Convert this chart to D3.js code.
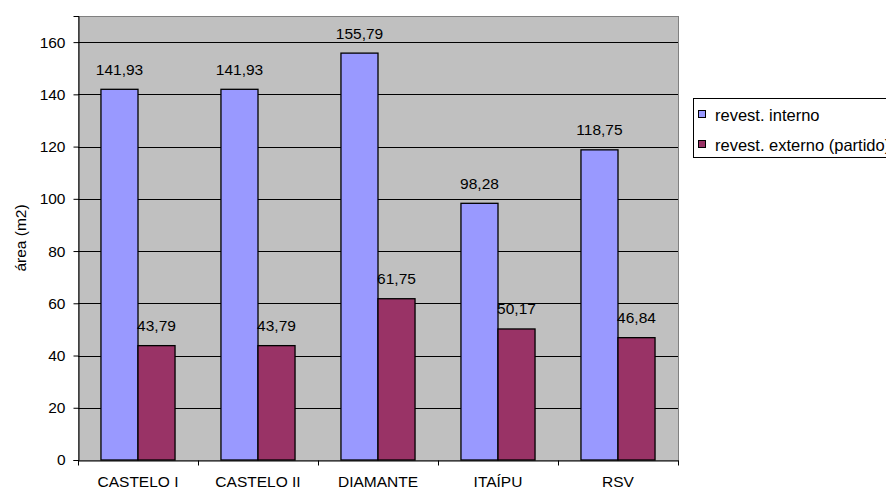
<!DOCTYPE html>
<html>
<head>
<meta charset="utf-8">
<script src="https://cdn.jsdelivr.net/npm/d3@7"></script>
<style>
  body { margin: 0; background: #fff; overflow: hidden; }
  text { font-family: Arial, "Liberation Sans", sans-serif; fill: #000; }
</style>
</head>
<body>
<svg id="chart" width="886" height="489"></svg>
<script>
// data
var categories = ["CASTELO I", "CASTELO II", "DIAMANTE", "ITAÍPU", "RSV"];
var seriesNames = ["revest. interno", "revest. externo (partido)"];
var interno = [141.93, 141.93, 155.79, 98.28, 118.75];
var externo = [43.79, 43.79, 61.75, 50.17, 46.84];
var yTicks = [0, 20, 40, 60, 80, 100, 120, 140, 160];
var colors = ["#9999ff", "#993366"];

var FS = 15.5;
var svg = d3.select("#chart");
var plot = { left: 78, top: 16, right: 678, bottom: 460 };

var x0 = d3.scaleBand().domain(categories).range([plot.left, plot.right]);
var x1 = d3.scaleBand().domain(seriesNames).range([0, x0.bandwidth()]).paddingOuter(0.62);
var y = d3.scaleLinear().domain([0, 170]).range([plot.bottom, plot.top]);

var fmt = function(v){ return v.toFixed(2).replace(".", ","); };

// plot background
svg.append("rect")
  .attr("x", plot.left + 0.5).attr("y", plot.top + 0.5)
  .attr("width", plot.right - plot.left).attr("height", plot.bottom - plot.top)
  .attr("fill", "#c0c0c0").attr("stroke", "#808080").attr("stroke-width", 1);

// gridlines
svg.append("g").selectAll("line").data(yTicks.filter(function(d){ return d > 0; }))
  .enter().append("line")
  .attr("x1", plot.left).attr("x2", plot.right)
  .attr("y1", function(d){ return Math.round(y(d)) + 0.5; })
  .attr("y2", function(d){ return Math.round(y(d)) + 0.5; })
  .attr("stroke", "#000").attr("stroke-width", 1);

// bars
var rows = categories.map(function(c, i){ return { cat: c, vals: [interno[i], externo[i]] }; });
var groups = svg.append("g").selectAll("g").data(rows).enter().append("g")
  .attr("transform", function(d){ return "translate(" + x0(d.cat) + ",0)"; });

groups.selectAll("rect").data(function(d){ return d.vals.map(function(v, j){ return { s: seriesNames[j], v: v, j: j }; }); })
  .enter().append("rect")
  .attr("x", function(d){ return x1(d.s); })
  .attr("y", function(d){ return y(d.v); })
  .attr("width", x1.bandwidth())
  .attr("height", function(d){ return plot.bottom - y(d.v); })
  .attr("fill", function(d){ return colors[d.j]; })
  .attr("stroke", "#000").attr("stroke-width", 1.3);

groups.selectAll("text").data(function(d){ return d.vals.map(function(v, j){ return { s: seriesNames[j], v: v }; }); })
  .enter().append("text")
  .attr("x", function(d){ return x1(d.s) + x1.bandwidth() / 2; })
  .attr("y", function(d){ return y(d.v) - 14.5; })
  .attr("text-anchor", "middle")
  .attr("font-size", FS)
  .text(function(d){ return fmt(d.v); });

// axes
var yAxis = d3.axisLeft(y).tickValues(yTicks).tickSize(5).tickPadding(8);
var gy = svg.append("g").attr("transform", "translate(" + (plot.left + 0.5) + ",0)").call(yAxis);
gy.select(".domain").attr("stroke", "#000");
gy.selectAll("text").attr("font-size", FS).attr("font-family", "Arial, 'Liberation Sans', sans-serif");

var xAxis = d3.axisBottom(x0).tickSize(0).tickPadding(15);
var gx = svg.append("g").attr("transform", "translate(0," + (plot.bottom + 0.5) + ")").call(xAxis);
gx.select(".domain").attr("stroke", "#000");
gx.selectAll("text").attr("font-size", FS).attr("font-family", "Arial, 'Liberation Sans', sans-serif");
gx.selectAll(".edge").data(d3.range(categories.length + 1)).enter().append("line")
  .attr("class", "edge")
  .attr("x1", function(i){ return Math.round(plot.left + i * x0.step()) + 0.5; })
  .attr("x2", function(i){ return Math.round(plot.left + i * x0.step()) + 0.5; })
  .attr("y1", 0).attr("y2", 5).attr("stroke", "#000");

// y title
svg.append("text")
  .attr("transform", "translate(26," + ((plot.top + plot.bottom) / 2) + ") rotate(-90)")
  .attr("text-anchor", "middle").attr("font-size", FS)
  .text("área (m2)");

// legend
var lg = svg.append("g").attr("transform", "translate(693,98)");
lg.append("rect").attr("x", 0.5).attr("y", 0.5).attr("width", 240).attr("height", 59)
  .attr("fill", "#fff").attr("stroke", "#000");
seriesNames.forEach(function(s, i){
  var yy = 17 + i * 30;
  lg.append("rect").attr("x", 5.5).attr("y", yy - 4.5).attr("width", 7).attr("height", 7)
    .attr("fill", colors[i]).attr("stroke", "#000");
  lg.append("text").attr("x", 22).attr("y", yy + 6).attr("font-size", 16.5).text(s);
});
</script>
</body>
</html>
